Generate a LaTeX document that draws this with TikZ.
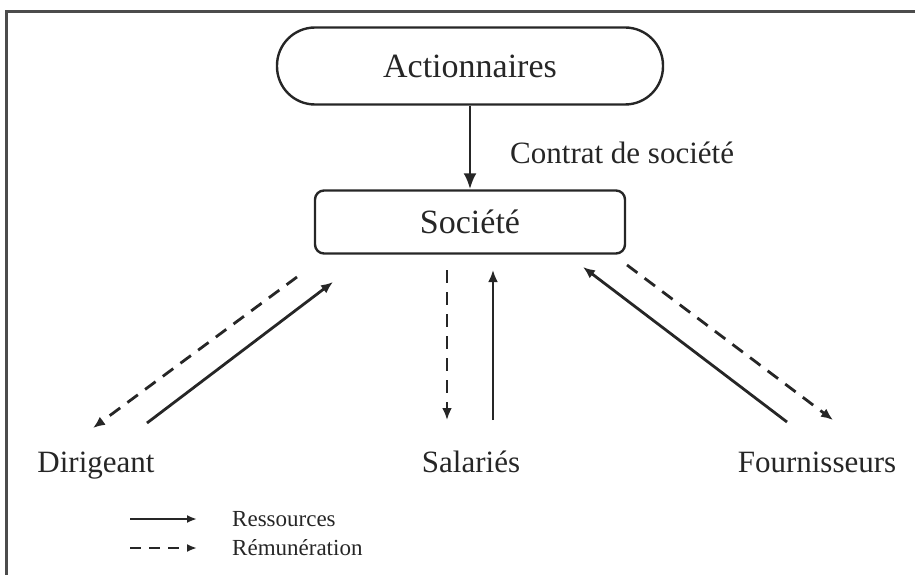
\documentclass[tikz,border=0pt]{standalone}
\usepackage{fontspec}
\setmainfont{Liberation Serif}
\usetikzlibrary{arrows.meta}
\definecolor{ink}{HTML}{262626}
\tikzset{
  box/.style={draw=ink, line width=2.4pt, text=ink, font=\fontsize{34}{38}\selectfont, inner sep=0pt},
  lab/.style={text=ink, font=\fontsize{31}{36}\selectfont, inner sep=0pt, anchor=base},
  leg/.style={text=ink, font=\fontsize{23}{26}\selectfont, inner sep=0pt, anchor=base west},
  res/.style={draw=ink, line width=2.8pt, -{Latex[length=12pt,width=10pt]}},
  rem/.style={draw=ink, line width=2.8pt, dash pattern=on 13pt off 9pt, -{Latex[length=12pt,width=10pt]}},
}
\begin{document}
\begin{tikzpicture}[x=1pt,y=-1pt]
\useasboundingbox (0,0) rectangle (915,575);
% frame (clipped at right and bottom)
\draw[line width=3pt, draw=gray!60!black] (6,575) -- (6,12) -- (915,12);
% nodes
\node[box, minimum width=386pt, minimum height=77pt, rounded corners=38pt] (act) at (470,66) {Actionnaires};
\node[box, minimum width=310pt, minimum height=63pt, rounded corners=9pt] (soc) at (470,222) {Société};
\node[lab, anchor=base west] (ctr) at (510,163) {Contrat de société};
\node[lab] (dir) at (96,472) {Dirigeant};
\node[lab] (sal) at (471,472) {Salariés};
\node[lab] (fou) at (817,472) {Fournisseurs};
% connector ends
\coordinate (d1) at (297,277); \coordinate (d2) at (93,428);
\coordinate (d3) at (147,423); \coordinate (d4) at (333,282);
\coordinate (s1) at (447,270); \coordinate (s2) at (447,420);
\coordinate (s3) at (493,420); \coordinate (s4) at (493,270);
\coordinate (f1) at (787,422); \coordinate (f2) at (583,267);
\coordinate (f3) at (627,265); \coordinate (f4) at (833,420);
% connectors
\draw[res, -{Latex[length=16pt,width=13pt]}] (act.south) -- (soc.north);
\draw[rem] (d1) -- (d2);
\draw[res] (d3) -- (d4);
\draw[rem] (s1) -- (s2);
\draw[res] (s3) -- (s4);
\draw[res] (f1) -- (f2);
\draw[rem] (f3) -- (f4);
% legend
\coordinate (l1) at (130,519); \coordinate (l2) at (197,519);
\coordinate (l3) at (130,548); \coordinate (l4) at (197,548);
\draw[res, -{Latex[length=10pt,width=8pt]}] (l1) -- (l2);
\draw[rem, dash pattern=on 11pt off 8pt, -{Latex[length=10pt,width=8pt]}] (l3) -- (l4);
\node[leg] (lr) at (232,526) {Ressources};
\node[leg] (lm) at (232,555) {Rémunération};
\end{tikzpicture}
\end{document}
